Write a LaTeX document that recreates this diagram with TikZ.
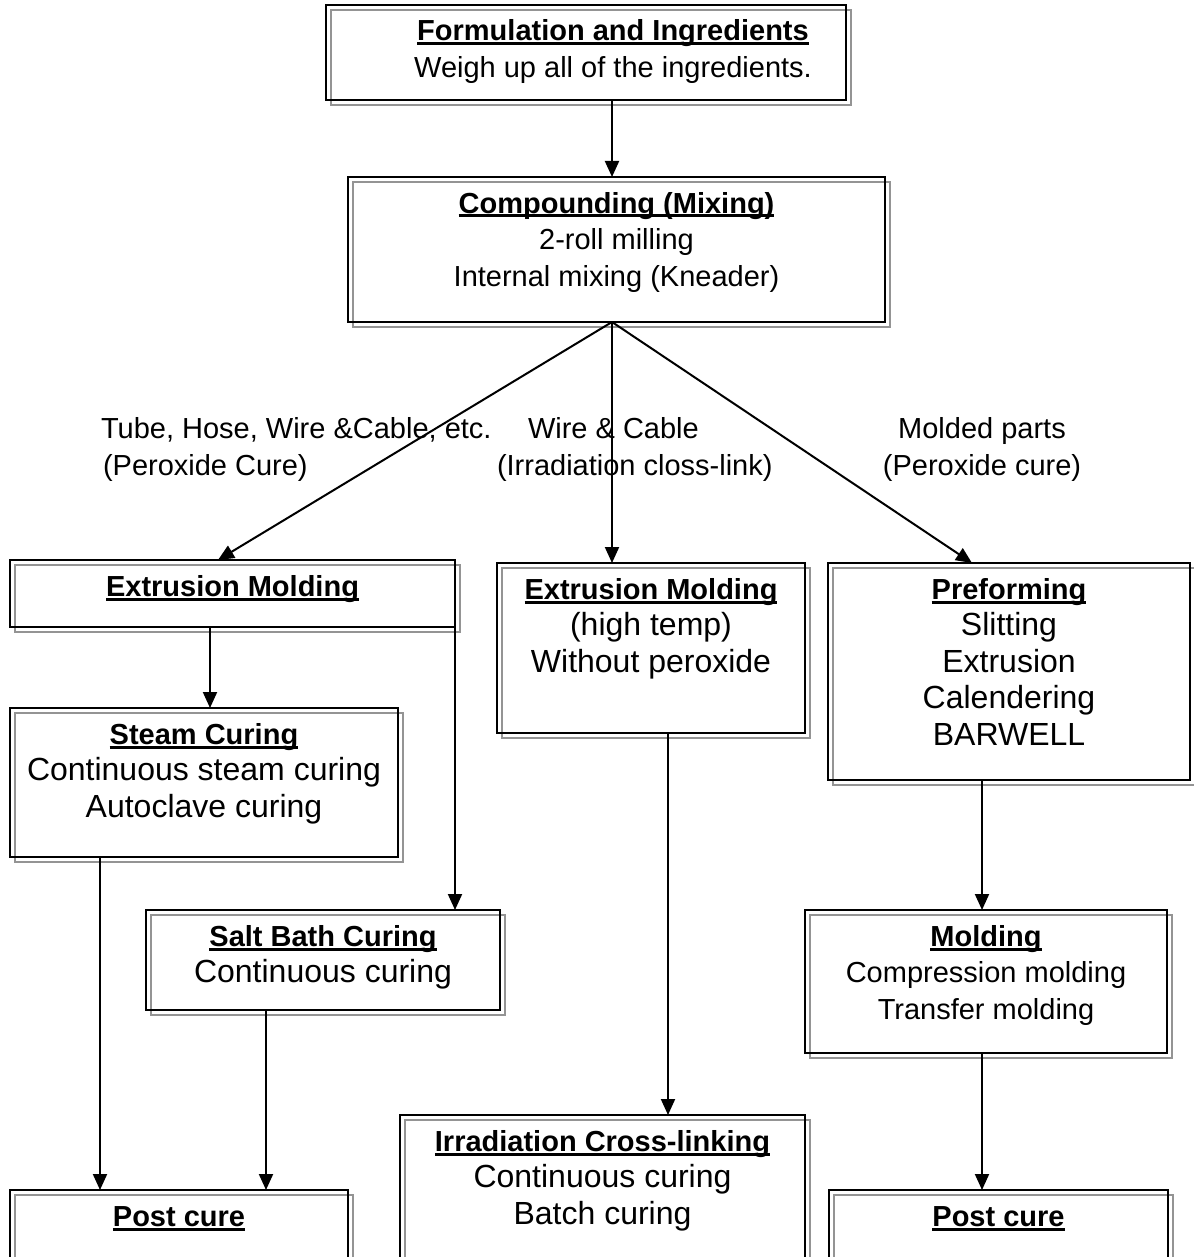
\documentclass[tikz,border=0pt]{standalone}
\usepackage{fontspec}
\setmainfont{Liberation Sans}
\usetikzlibrary{arrows.meta,backgrounds}
\newcommand\myul[1]{\setbox0\hbox{#1}\rlap{\rule[-4.5pt]{\wd0}{3pt}}\box0}
\newcommand\bx[4][0]{\parbox[c][#3pt][t]{#2pt}{\centering\leftskip=#1pt plus 1fil\fontsize{29}{36.5}\selectfont\rule{0pt}{36pt}#4}}
\newcommand\ttl[1]{\myul{\textbf{#1}}}
\newcommand\bigtxt{\fontsize{32}{36.5}\selectfont}
\begin{document}
\begin{tikzpicture}[x=1pt,y=-1pt,
  box/.style={draw,line width=2pt,inner sep=0pt,outer sep=0pt,anchor=north west},
  arr/.style={line width=2pt,-{Triangle[length=16pt,width=14pt]}},
  lbl/.style={inner sep=0pt,outer sep=0pt,font=\fontsize{29}{36}\selectfont},
  shadowline/.style={draw=black!42,line width=2pt}]
\clip (0,0) rectangle (1193,1257);

\node[box] (form) at (326,5) {\bx[54]{520}{95}{\ttl{Formulation and Ingredients}\\Weigh up all of the ingredients.}};
\node[box] (comp) at (348,177) {\bx{537}{145}{\ttl{Compounding (Mixing)}\\2-roll milling\\Internal mixing (Kneader)}};
\node[box] (extL) at (10,560) {\bx{445}{67}{\ttl{Extrusion Molding}}};
\node[box] (extM) at (497,563) {\bx{308}{170}{\ttl{Extrusion Molding}\\\bigtxt (high temp)\\Without peroxide}};
\node[box] (pref) at (828,563) {\bx{362}{217}{\ttl{Preforming}\\\bigtxt Slitting\\Extrusion\\Calendering\\BARWELL}};
\node[box] (steam) at (10,708) {\bx{388}{149}{\ttl{Steam Curing}\\\bigtxt Continuous steam curing\\Autoclave curing}};
\node[box] (salt) at (146,910) {\bx{354}{100}{\ttl{Salt Bath Curing}\\\bigtxt Continuous curing}};
\node[box] (mold) at (805,910) {\bx{362}{143}{\ttl{Molding}\\Compression molding\\Transfer molding}};
\node[box] (irr) at (400,1115) {\bx{405}{170}{\ttl{Irradiation Cross-linking}\\\bigtxt Continuous curing\\Batch curing}};
\node[box] (pcL) at (10,1190) {\bx{338}{100}{\ttl{Post cure}}};
\node[box] (pcR) at (829,1190) {\bx{339}{100}{\ttl{Post cure}}};

\begin{scope}[on background layer]
\foreach \n in {form,comp,extL,extM,pref,steam,salt,mold,irr,pcL,pcR}
  \draw[shadowline] ([shift={(5,5)}]\n.north west) rectangle ([shift={(5,5)}]\n.south east);
\end{scope}

\node[lbl,anchor=base west] (l1a) at (101,438) {Tube, Hose, Wire \&Cable, etc.};
\node[lbl,anchor=base west] (l1b) at (103,475) {(Peroxide Cure)};
\node[lbl,anchor=base west] (l2a) at (528,438) {Wire \& Cable};
\node[lbl,anchor=base west] (l2b) at (497,475) {(Irradiation closs-link)};
\node[lbl,anchor=base] (l3a) at (982,438) {Molded parts};
\node[lbl,anchor=base] (l3b) at (982,475) {(Peroxide cure)};

\draw[arr] ([xshift=26pt]form.south) -- ([xshift=-4.5pt]comp.north);
\draw[arr] ([xshift=-4.5pt]comp.south) -- ([xshift=-14.5pt]extL.north);
\draw[arr] ([xshift=-4.5pt]comp.south) -- ([xshift=-39pt]extM.north);
\draw[arr] ([xshift=-4.5pt]comp.south) -- ([xshift=-37pt]pref.north);
\draw[arr] ([xshift=-22.5pt]extL.south) -- ([xshift=6pt]steam.north);
\draw[arr] (extL.south east) -- (extL.south east |- salt.north);
\draw[arr] ([xshift=-104pt]steam.south) -- ([xshift=-79pt]pcL.north);
\draw[arr] ([xshift=-57pt]salt.south) -- ([xshift=87pt]pcL.north);
\draw[arr] ([xshift=17pt]extM.south) -- ([xshift=65.5pt]irr.north);
\draw[arr] ([xshift=-27pt]pref.south) -- ([xshift=-4pt]mold.north);
\draw[arr] ([xshift=-4pt]mold.south) -- ([xshift=-16.5pt]pcR.north);
\end{tikzpicture}
\end{document}
